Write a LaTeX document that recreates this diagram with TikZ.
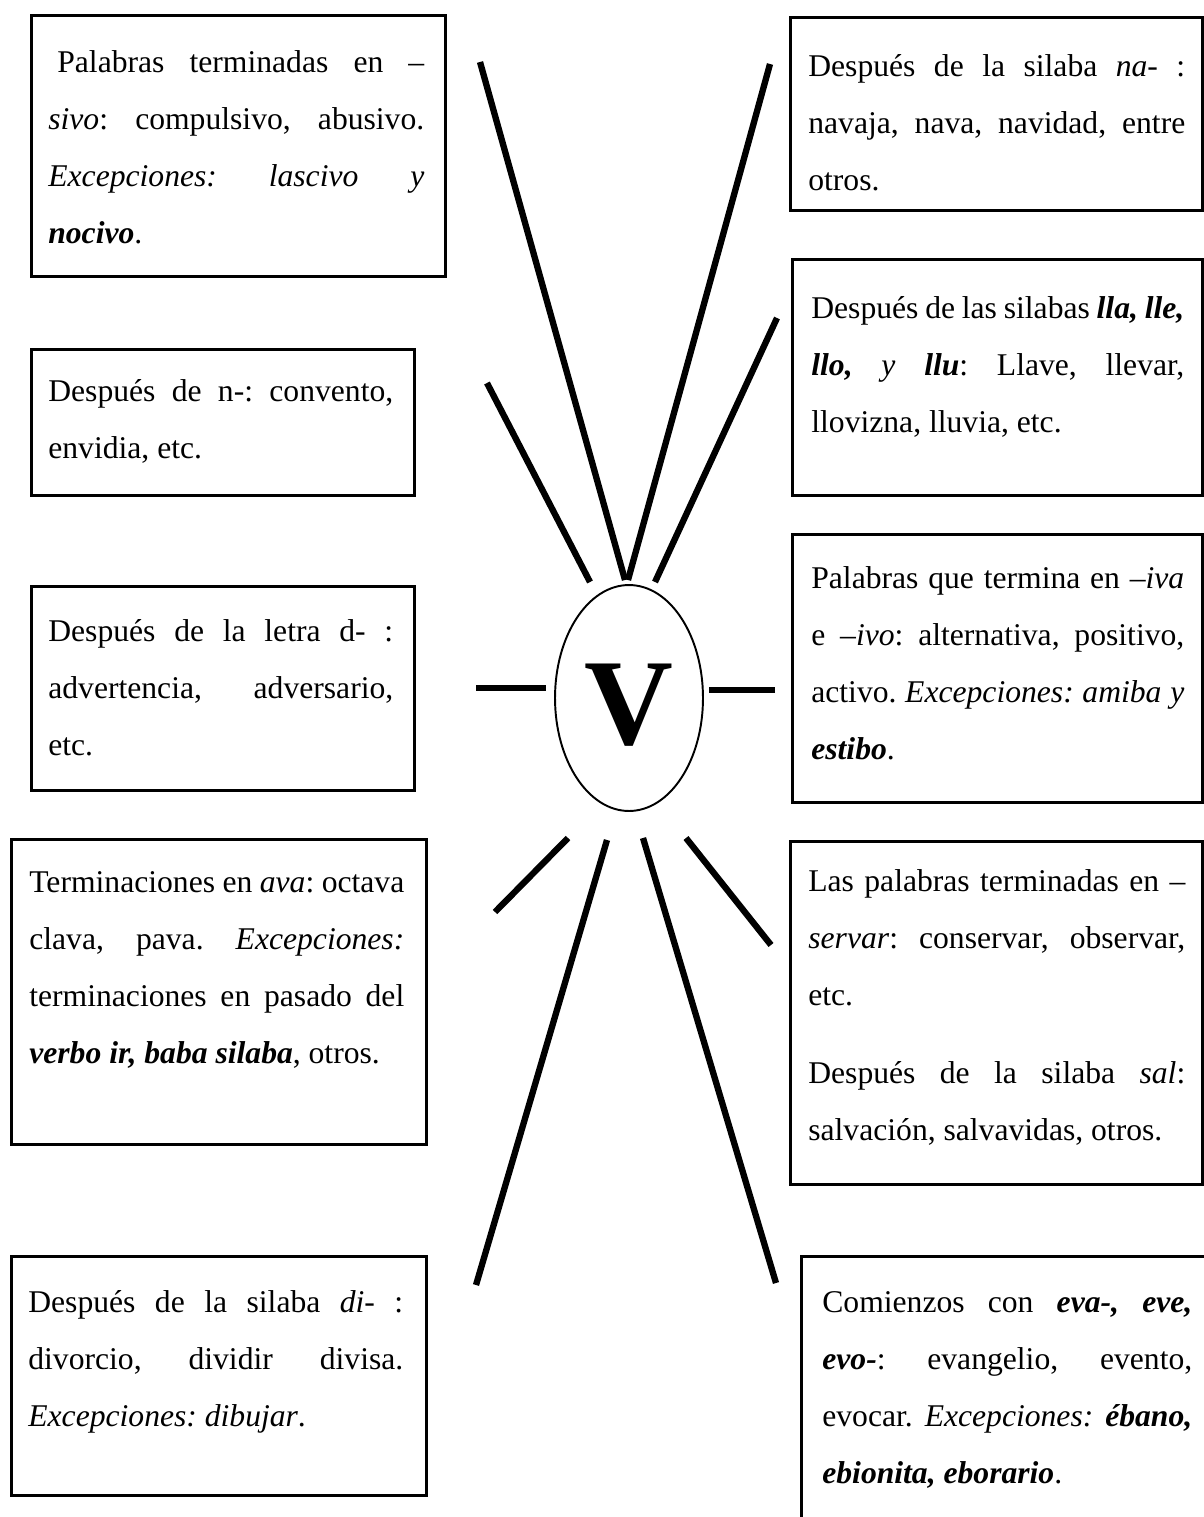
\documentclass[tikz,border=0pt]{standalone}
\usepackage{fontspec}
\setmainfont{Liberation Serif}
\usetikzlibrary{calc,shapes.geometric}

\newcommand{\bitx}[1]{\textbf{\textit{#1}}}
\frenchspacing
\hyphenpenalty=10000
\exhyphenpenalty=10000

\tikzset{
  frame/.style={draw, line width=1.6pt, anchor=north west, inner sep=0pt},
  rule/.style={anchor=north west, inner sep=0pt, align=justify,
    font=\fontsize{18}{32.4}\selectfont},
  spoke/.style={line width=3.6pt},
}

\begin{document}
\begin{tikzpicture}[x=0.02cm, y=-0.02cm]
    \useasboundingbox (0,0) rectangle (1203,1517);

    % centre
    \node[ellipse, draw, line width=1.1pt, minimum width=2.96cm, minimum height=4.52cm,
      inner sep=0pt, text height=1.88cm, text depth=0pt,
      font=\fontsize{70}{70}\selectfont\bfseries] (v) at (629,698) {V};

    % left column
    \node[frame, minimum width=8.28cm, minimum height=5.22cm] (l1) at (30,14) {};
    \node[rule, text width=7.52cm] (tl1) at ($(l1.north west)+(18,36)$)
      {\hspace*{0.18cm}Palabras terminadas en –\linebreak
       \textit{sivo}: compulsivo, abusivo.\linebreak
       \textit{Excepciones:} \textit{lascivo} \textit{y}\linebreak
       \bitx{nocivo}.};

    \node[frame, minimum width=7.66cm, minimum height=2.92cm] (l2) at (30,348) {};
    \node[rule, text width=6.9cm] (tl2) at ($(l2.north west)+(18,31)$)
      {Después de n-: convento,\linebreak
       envidia, etc.};

    \node[frame, minimum width=7.66cm, minimum height=4.08cm] (l3) at (30,585) {};
    \node[rule, text width=6.9cm] (tl3) at ($(l3.north west)+(18,34)$)
      {Después de la letra d- :\linebreak
       advertencia, adversario,\linebreak
       etc.};

    \node[frame, minimum width=8.3cm, minimum height=6.1cm] (l4) at (10,838) {};
    \node[rule, text width=7.5cm] (tl4) at ($(l4.north west)+(19,33)$)
      {Terminaciones en \textit{ava}: octava\linebreak
       clava, pava. \textit{Excepciones:}\linebreak
       terminaciones en pasado del\linebreak
       \bitx{verbo ir, baba silaba}, otros.};

    \node[frame, minimum width=8.3cm, minimum height=4.78cm] (l5) at (10,1255) {};
    \node[rule, text width=7.5cm] (tl5) at ($(l5.north west)+(18,35)$)
      {Después de la silaba \textit{di}- :\linebreak
       divorcio, dividir divisa.\linebreak
       \textit{Excepciones: dibujar}.};

    % right column
    \node[frame, minimum width=8.24cm, minimum height=3.86cm] (r1) at (789,16) {};
    \node[rule, text width=7.54cm] (tr1) at ($(r1.north west)+(19,38)$)
      {Después de la silaba \textit{na}- :\linebreak
       navaja, nava, navidad, entre\linebreak
       otros.};

    \node[frame, minimum width=8.2cm, minimum height=4.72cm] (r2) at (791,258) {};
    \node[rule, text width=7.46cm] (tr2) at ($(r2.north west)+(20,38)$)
      {Después de las silabas \bitx{lla, lle,}\linebreak
       \bitx{llo,} \textit{y} \bitx{llu}: Llave, llevar,\linebreak
       llovizna, lluvia, etc.};

    \node[frame, minimum width=8.2cm, minimum height=5.36cm] (r3) at (791,533) {};
    \node[rule, text width=7.46cm] (tr3) at ($(r3.north west)+(20,33)$)
      {Palabras que termina en –\textit{iva}\linebreak
       e –\textit{ivo}: alternativa, positivo,\linebreak
       activo. \textit{Excepciones: amiba y}\linebreak
       \bitx{estibo}.};

    \node[frame, minimum width=8.24cm, minimum height=6.86cm] (r4) at (789,840) {};
    \node[rule, text width=7.54cm] (tr4) at ($(r4.north west)+(19,29)$)
      {Las palabras terminadas en –\linebreak
       \textit{servar}: conservar, observar,\linebreak
       etc.\par\vspace{0.42cm}
       Después de la silaba \textit{sal}:\linebreak
       salvación, salvavidas, otros.};

    \node[frame, minimum width=8.3cm, minimum height=5.6cm] (r5) at (800,1255) {};
    \node[rule, text width=7.4cm] (tr5) at ($(r5.north west)+(22,36)$)
      {Comienzos con \bitx{eva-, eve,}\linebreak
       \bitx{evo-}: evangelio, evento,\linebreak
       evocar. \textit{Excepciones:} \bitx{ébano,}\linebreak
       \bitx{ebionita, eborario}.};

    % spokes round the V
    \coordinate (a1) at (480,62);   \coordinate (b1) at (625,580);
    \coordinate (a2) at (770,64);   \coordinate (b2) at (628,580);
    \coordinate (a3) at (487,383);  \coordinate (b3) at (590,582);
    \coordinate (a4) at (777,318);  \coordinate (b4) at (655,582);
    \coordinate (a5) at (476,688);  \coordinate (b5) at (546,688);
    \coordinate (a6) at (775,690);  \coordinate (b6) at (709,690);
    \coordinate (a7) at (495,912);  \coordinate (b7) at (568,838);
    \coordinate (a8) at (771,945);  \coordinate (b8) at (686,838);
    \coordinate (a9) at (476,1285); \coordinate (b9) at (607,840);
    \coordinate (a10) at (776,1283); \coordinate (b10) at (643,838);

    \foreach \i in {1,...,10}
      \draw[spoke] (a\i) -- (b\i);
\end{tikzpicture}
\end{document}
